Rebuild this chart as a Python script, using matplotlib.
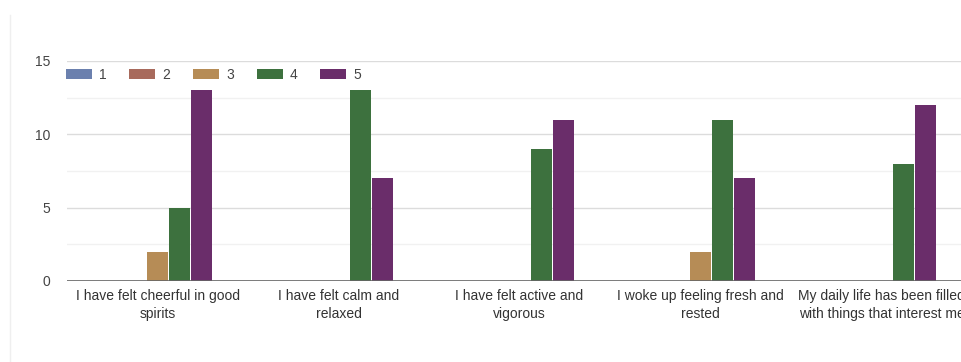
import matplotlib
matplotlib.use('Agg')
import matplotlib.pyplot as plt
import numpy as np
from matplotlib.patches import Patch
from matplotlib.lines import Line2D

categories = [
    'I have felt cheerful in good\nspirits',
    'I have felt calm and\nrelaxed',
    'I have felt active and\nvigorous',
    'I woke up feeling fresh and\nrested',
    'My daily life has been filled\nwith things that interest me',
]
series_names = ['1', '2', '3', '4', '5']
series_1 = [0, 0, 0, 0, 0]
series_2 = [0, 0, 0, 0, 0]
series_3 = [2, 0, 0, 2, 0]
series_4 = [5, 13, 9, 11, 8]
series_5 = [13, 7, 11, 7, 12]
colors = ['#6b80ae', '#a86a5c', '#b68c56', '#3d713e', '#6a2d6a']

plt.rcParams['font.family'] = ['Liberation Sans', 'DejaVu Sans']

fig = plt.figure(figsize=(9.62, 3.62), dpi=100)
W, H = 962, 362
ax = fig.add_axes([67 / W, (H - 281) / H, 905 / W, 220 / H])

x = np.arange(len(categories))
step = 22 / 181
width = 0.115
all_series = [series_1, series_2, series_3, series_4, series_5]
for k, vals in enumerate(all_series):
    ax.bar(x + (k - 2) * step, vals, width=width, color=colors[k], zorder=3)

ax.set_xlim(-0.5, len(categories) - 0.5)
ax.set_ylim(0, 15)
ax.set_yticks([0, 5, 10, 15])
ax.set_yticks([2.5, 7.5, 12.5], minor=True)
ax.grid(axis='y', which='major', color='#dcdcdc', linewidth=1, zorder=0)
ax.grid(axis='y', which='minor', color='#f1f1f1', linewidth=1, zorder=0)
ax.axhline(0, color='#666666', linewidth=1.2, zorder=4)
for s in ax.spines.values():
    s.set_visible(False)
ax.tick_params(axis='y', which='both', length=0, pad=12, labelsize=10, labelcolor='#444444')
ax.tick_params(axis='x', length=0, pad=6, labelsize=10, labelcolor='#333333')
ax.set_xticks(x)
ax.set_xticklabels(categories, linespacing=1.35)

handles = [Patch(facecolor=c, edgecolor='none') for c in colors]
fig.legend(handles, series_names, loc='center left', bbox_to_anchor=(66 / W, (H - 75) / H),
           ncol=5, frameon=False, fontsize=10, handlelength=1.87, handleheight=0.72,
           handletextpad=0.5, columnspacing=1.65, borderpad=0, borderaxespad=0,
           labelcolor='#444444')

# faint card border on the left
fig.add_artist(Line2D([10 / W, 10 / W], [0, (H - 15) / H], transform=fig.transFigure,
                      color='#efefef', linewidth=1))

fig.savefig('out.png', dpi=100, facecolor='white')
